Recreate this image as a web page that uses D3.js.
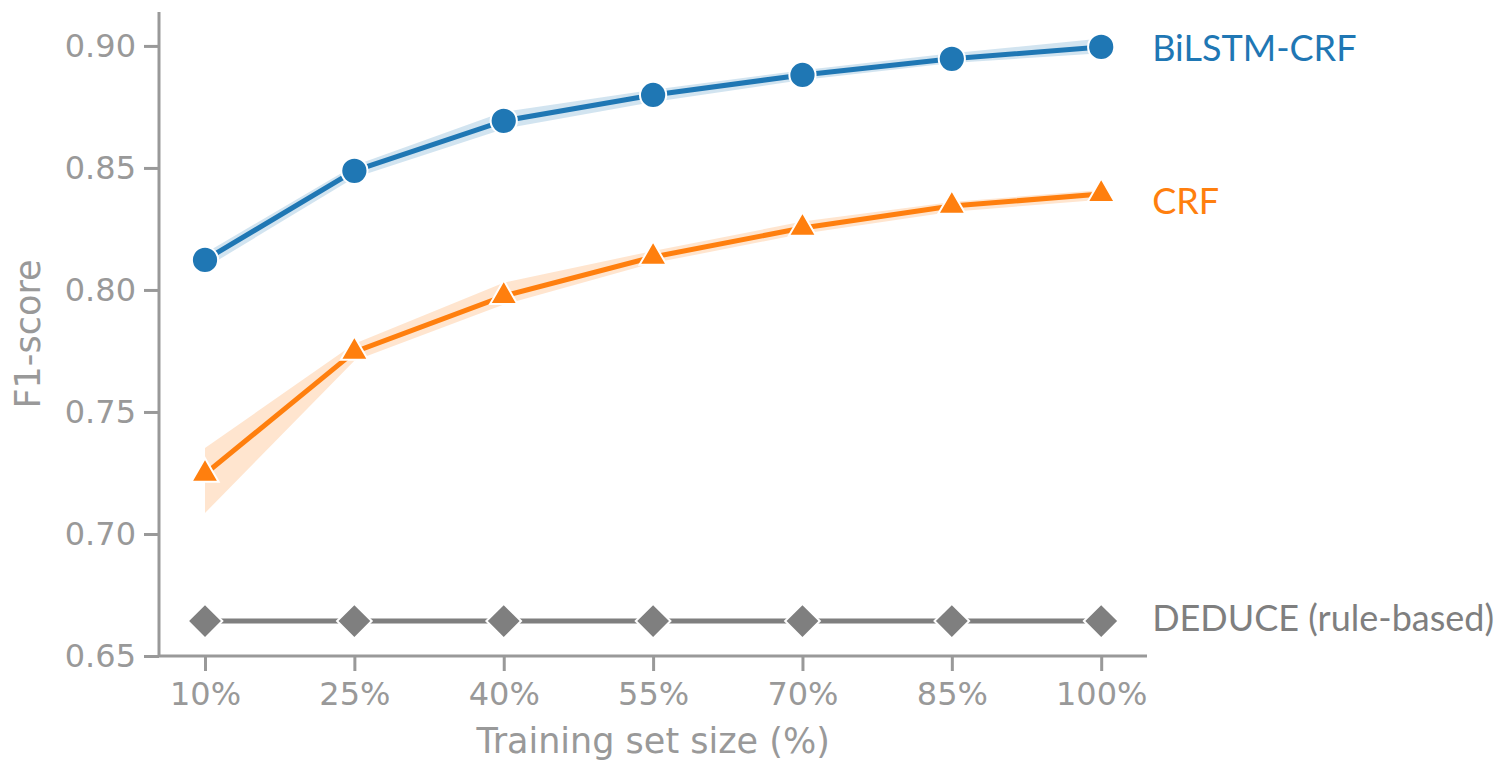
<!DOCTYPE html>
<html>
<head>
<meta charset="utf-8">
<script src="https://cdn.jsdelivr.net/npm/d3@7"></script>
<style>
  body { margin: 0; background: #fff; }
  svg text { font-family: "DejaVu Sans", sans-serif; }
</style>
</head>
<body>
<div id="chart"></div>
<script>
// data
var sizes = [10, 25, 40, 55, 70, 85, 100];
var xTickLabels = ["10%", "25%", "40%", "55%", "70%", "85%", "100%"];
var yTicks = [0.65, 0.70, 0.75, 0.80, 0.85, 0.90];

var bilstmF1 = [0.8123, 0.8488, 0.8693, 0.8799, 0.8881, 0.8947, 0.8996];
var bilstmLow = [0.809, 0.846, 0.866, 0.877, 0.886, 0.893, 0.897];
var bilstmHigh = [0.815, 0.851, 0.873, 0.882, 0.890, 0.897, 0.903];

var crfF1 = [0.7246, 0.7746, 0.7975, 0.8135, 0.8254, 0.8344, 0.8393];
var crfLow = [0.7086, 0.771, 0.794, 0.811, 0.823, 0.832, 0.837];
var crfHigh = [0.7352, 0.778, 0.803, 0.816, 0.828, 0.836, 0.841];

var deduceF1 = [0.6643, 0.6643, 0.6643, 0.6643, 0.6643, 0.6643, 0.6643];

var seriesNames = ["BiLSTM-CRF", "CRF", "DEDUCE (rule-based)"];
var colors = ["#1f77b4", "#ff7f0e", "#7f7f7f"];

// svg container
var svgWidth = 1504;
var svgHeight = 760;

var margin = { top: 12, right: 357, bottom: 104, left: 159 };
var chartWidth = svgWidth - margin.left - margin.right;
var chartHeight = svgHeight - margin.top - margin.bottom;

var svg = d3.select("#chart").append("svg")
  .attr("width", svgWidth)
  .attr("height", svgHeight);

var chartGroup = svg.append("g")
  .attr("transform", `translate(${margin.left}, ${margin.top})`);

var xScale = d3.scaleLinear()
  .domain([5.38, 104.6])
  .range([0, chartWidth]);

var yScale = d3.scaleLinear()
  .domain([0.65, 0.9139])
  .range([chartHeight, 0]);

var axisColor = "#999";

// x axis
var xAxis = d3.axisBottom(xScale)
  .tickValues(sizes)
  .tickFormat((d, i) => xTickLabels[i])
  .tickSize(15)
  .tickPadding(7);

var gx = chartGroup.append("g")
  .attr("transform", `translate(0, ${chartHeight})`)
  .call(xAxis);

// y axis
var yAxis = d3.axisLeft(yScale)
  .tickValues(yTicks)
  .tickFormat(d3.format(".2f"))
  .tickSize(15)
  .tickPadding(8);

var gy = chartGroup.append("g").call(yAxis);

[gx, gy].forEach(function(g) {
  g.select(".domain").attr("stroke", axisColor).attr("stroke-width", 3);
  g.selectAll(".tick line").attr("stroke", axisColor).attr("stroke-width", 3);
  g.selectAll(".tick text")
    .attr("fill", axisColor)
    .style("font-size", "32px");
});
gx.selectAll(".tick text").attr("dy", "0.85em");
gy.select(".domain").attr("d", `M0,0V${chartHeight}`);
gx.select(".domain").attr("d", `M0,0H${chartWidth}`);

// axis titles
svg.append("text")
  .attr("x", margin.left + xScale(55))
  .attr("y", 741)
  .attr("text-anchor", "middle")
  .attr("dominant-baseline", "central")
  .attr("fill", axisColor)
  .style("font-size", "35px")
  .text("Training set size (%)");

svg.append("text")
  .attr("transform", "translate(28, 334) rotate(-90)")
  .attr("text-anchor", "middle")
  .attr("dominant-baseline", "central")
  .attr("fill", axisColor)
  .style("font-size", "35px")
  .text("F1-score");

// series
var series = [
  { name: seriesNames[0], vals: bilstmF1, low: bilstmLow, high: bilstmHigh, shape: d3.symbolCircle, size: 540, rot: 0, color: colors[0] },
  { name: seriesNames[1], vals: crfF1, low: crfLow, high: crfHigh, shape: d3.symbolTriangle, size: 320, rot: 0, color: colors[1] },
  { name: seriesNames[2], vals: deduceF1, low: null, high: null, shape: d3.symbolSquare, size: 600, rot: 45, color: colors[2] }
];

var area = d3.area()
  .x(d => xScale(d.x))
  .y0(d => yScale(d.lo))
  .y1(d => yScale(d.hi));

var line = d3.line()
  .x(d => xScale(d.x))
  .y(d => yScale(d.y));

series.forEach(function(s) {
  if (s.low) {
    chartGroup.append("path")
      .datum(sizes.map((x, i) => ({ x: x, lo: s.low[i], hi: s.high[i] })))
      .attr("d", area)
      .attr("fill", s.color)
      .attr("fill-opacity", 0.2);
  }
});

series.forEach(function(s) {
  var pts = sizes.map((x, i) => ({ x: x, y: s.vals[i] }));
  chartGroup.append("path")
    .datum(pts)
    .attr("d", line)
    .attr("fill", "none")
    .attr("stroke", s.color)
    .attr("stroke-width", 5);

  chartGroup.selectAll(null)
    .data(pts)
    .enter()
    .append("path")
    .attr("transform", d => `translate(${xScale(d.x)}, ${yScale(d.y)}) rotate(${s.rot})`)
    .attr("d", d3.symbol().type(s.shape).size(s.size))
    .attr("fill", s.color)
    .attr("stroke", "#fff")
    .attr("stroke-width", 2);
});

// direct labels at the end of each line
var labelOffsets = [0, 6, -4];
series.forEach(function(s, i) {
  svg.append("text")
    .attr("x", margin.left + xScale(100) + 51)
    .attr("y", margin.top + yScale(s.vals[s.vals.length - 1]) + labelOffsets[i])
    .attr("dominant-baseline", "central")
    .attr("fill", s.color)
    .style("font-family", "Lato, sans-serif")
    .style("font-size", "36px")
    .text(s.name);
});
</script>
</body>
</html>
